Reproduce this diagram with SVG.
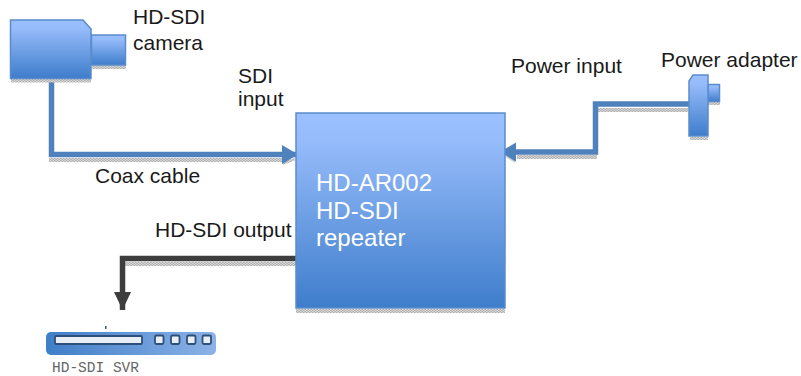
<svg xmlns="http://www.w3.org/2000/svg" width="801" height="376" viewBox="0 0 801 376">
<defs>
<linearGradient id="blue" x1="0" y1="0" x2="0" y2="1"><stop offset="0" stop-color="#9bc0ff"/><stop offset="0.15" stop-color="#95bbfa"/><stop offset="1" stop-color="#3e7dcb"/></linearGradient>
<linearGradient id="svr" x1="0" y1="0" x2="1" y2="0"><stop offset="0" stop-color="#3f7ec8"/><stop offset="1" stop-color="#8cb2e6"/></linearGradient>
<pattern id="dots" width="3" height="2" patternUnits="userSpaceOnUse"><rect width="3" height="2" fill="#d8d8d8"/><rect width="1.500" height="1" fill="#b0b0b0"/><rect x="1.500" y="1" width="1.500" height="1" fill="#b0b0b0"/></pattern>
<marker id="ah-blue" markerUnits="userSpaceOnUse" markerWidth="17" markerHeight="20" refX="16" refY="10" orient="auto"><path d="M0 0.500L16 10L0 19.500Z" fill="#4f81bd"/></marker>
<marker id="ah-dark" markerUnits="userSpaceOnUse" markerWidth="19" markerHeight="18" refX="18" refY="9" orient="auto"><path d="M0 0.500L18 9L0 17.500Z" fill="#3d3d3d"/></marker>
</defs>
<style>
text{font-family:"Liberation Sans",Arial,sans-serif;font-size:21px;fill:#1a1a1a}
.white{fill:#fff;font-size:24px}
.shape{fill:url(#blue);stroke:#5a8ccb;stroke-width:1.500}
.shadow{fill:url(#dots)}
.wire{fill:none;stroke:#4f81bd;stroke-width:5.500}
.dark{fill:none;stroke:#3d3d3d;stroke-width:5.500}
.btn{fill:#e8eef6;stroke:#2d4f7a;stroke-width:1.800}
</style>
<rect width="801" height="376" fill="#fff"/>
<g id="connector-shadows">
<rect class="shadow" x="49" y="158" width="234" height="4"/>
<path class="shadow" d="M283 162L294 158L296 160L283 165Z"/>
<rect class="shadow" x="597" y="108" width="91" height="4"/>
<rect class="shadow" x="517" y="155" width="80" height="4"/>
<path class="shadow" d="M503 155L515 159V163Z"/>
<rect class="shadow" x="125" y="262" width="171" height="4"/>
</g>
<g id="connectors">
<path class="wire" d="M51.500 79V154.500H298" marker-end="url(#ah-blue)"/>
<path class="wire" d="M689 104H595.500V152H500" marker-end="url(#ah-blue)"/>
<path class="dark" d="M296 258.500H122.500V310" marker-end="url(#ah-dark)"/>
</g>
<g id="camera">
<rect class="shadow" x="11" y="79" width="80" height="3.500"/>
<rect class="shadow" x="92" y="65" width="34" height="4"/>
<path class="shape" d="M91.500 35H125.500V65H91.500Z"/>
<path class="shape" d="M10.500 20H83L91 29V78.500H10.500Z"/>
<text x="133" y="24">HD-SDI</text>
<text x="133" y="50">camera</text>
</g>
<g id="sdi-input"><text x="238" y="83">SDI</text><text x="238" y="106">input</text></g>
<g id="coax-label"><text x="95" y="183">Coax cable</text></g>
<g id="power-input-label"><text x="511" y="73">Power input</text></g>
<g id="power-adapter">
<rect class="shadow" x="690" y="137" width="18" height="3"/>
<rect class="shadow" x="708" y="102" width="12" height="3"/>
<path class="shape" d="M708 84.500H719.500V101.500H708Z"/>
<path class="shape" d="M693 75H708V136H689V81Z"/>
<text x="661" y="67">Power adapter</text>
</g>
<g id="repeater">
<rect class="shadow" x="296" y="309" width="209" height="4"/>
<rect class="shape" x="296" y="113" width="209" height="195"/>
<text class="white" x="316" y="191">HD-AR002</text>
<text class="white" x="316" y="219">HD-SDI</text>
<text class="white" x="316" y="246">repeater</text>
</g>
<g id="output-label"><text x="155" y="237">HD-SDI output</text></g>
<g id="svr">
<rect x="105" y="326" width="1.500" height="3" fill="#2d5a8c"/>
<rect x="46" y="332" width="170" height="23" rx="5" fill="url(#svr)"/>
<rect class="btn" x="55" y="336" width="87" height="8" rx="1"/>
<rect class="btn" x="155" y="335.500" width="8.500" height="8.500" rx="1.500"/>
<rect class="btn" x="171" y="335.500" width="8.500" height="8.500" rx="1.500"/>
<rect class="btn" x="187" y="335.500" width="8.500" height="8.500" rx="1.500"/>
<rect class="btn" x="202.500" y="335.500" width="8.500" height="8.500" rx="1.500"/>
<text x="52" y="372" style="font-family:'Liberation Mono',monospace;font-size:14.500px;fill:#666">HD-SDI SVR</text>
</g>
</svg>
